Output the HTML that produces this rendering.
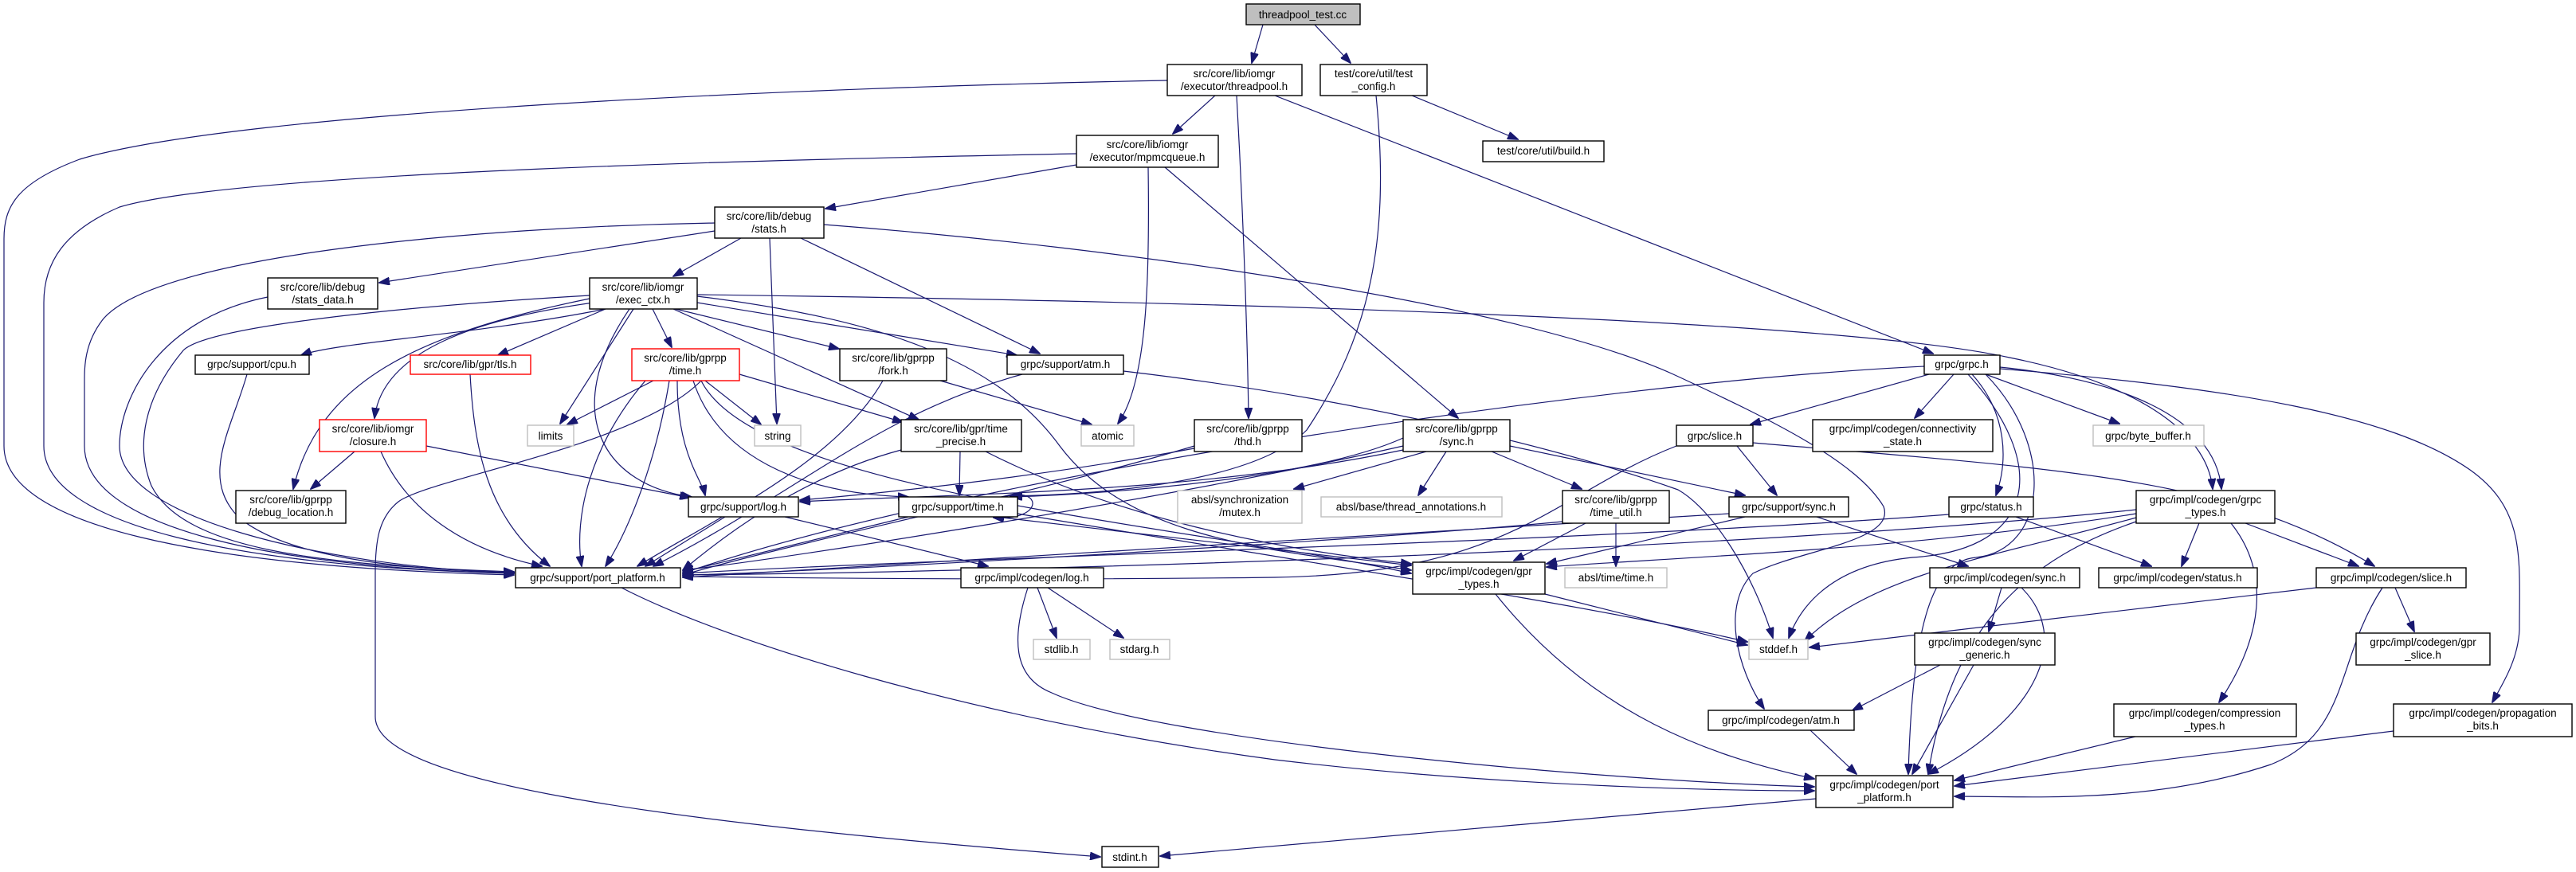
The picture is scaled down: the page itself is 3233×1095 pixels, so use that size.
<!DOCTYPE html>
<html><head><meta charset="utf-8"><style>
html,body{margin:0;padding:0;background:#fff;}
svg{display:block;}
text{font-family:"Liberation Sans",sans-serif;font-size:13.5px;fill:#000;text-anchor:middle;}
.n{fill:#fff;stroke:#000;stroke-width:1.4;}
.g{fill:#fff;stroke:#bfbfbf;stroke-width:1.4;}
.r{fill:#fff;stroke:#ff0000;stroke-width:1.4;}
.e path{fill:none;stroke:#191970;stroke-width:1.2;marker-end:url(#a);}
</style></head><body>
<svg width="3233" height="1095" viewBox="0 0 3233 1095" xmlns="http://www.w3.org/2000/svg">
<defs><marker id="a" markerWidth="14" markerHeight="10" refX="13" refY="5" orient="auto" markerUnits="userSpaceOnUse"><path d="M0,0 L14,5 L0,10 z" fill="#191970" stroke="#191970"/></marker></defs>
<g class="e">
<path d="M1585,31 L1571,79"/>
<path d="M1650,31 L1695,79"/>
<path d="M1525,120 L1472,168"/>
<path d="M1552,120 C1562,300 1566,450 1567,525"/>
<path d="M1600,120 L2426,444"/>
<path d="M1465,101 C1000,110 300,140 100,200 C20,230 5,260 5,300 L5,560 C5,660 250,712 645,722"/>
<path d="M1772,120 L1905,175"/>
<path d="M1727,120 C1745,300 1720,420 1640,540 C1560,620 1300,622 1268,623"/>
<path d="M1351,207 L1036,262"/>
<path d="M1441,210 C1443,350 1440,480 1403,532"/>
<path d="M1462,210 L1830,525"/>
<path d="M1351,193 C1000,200 300,215 150,260 C80,290 55,330 55,380 L55,560 C55,660 300,712 645,720"/>
<path d="M897,290 L476,355"/>
<path d="M930,299 L845,347"/>
<path d="M966,299 L975,532"/>
<path d="M1005,299 L1305,444"/>
<path d="M897,280 C600,285 200,320 130,400 C106,430 106,460 106,480 L106,560 C106,660 330,712 645,720"/>
<path d="M1034,282 C1400,310 1900,380 2100,470 C2230,530 2330,580 2364,636 C2380,680 2260,690 2200,720 C2160,760 2180,840 2214,890"/>
<path d="M875,370 C1500,378 2300,400 2522,449 C2676,480 2770,540 2777,614"/>
<path d="M760,388 C600,420 420,430 378,446"/>
<path d="M760,388 L625,446"/>
<path d="M745,380 C600,400 480,440 470,525"/>
<path d="M795,388 L703,532"/>
<path d="M819,388 L843,436"/>
<path d="M848,388 L1053,438"/>
<path d="M845,388 L1153,527"/>
<path d="M875,380 L1276,446"/>
<path d="M740,375 C520,420 400,480 368,614"/>
<path d="M740,371 C500,385 260,410 230,440 C180,500 170,560 190,610 C230,690 400,710 645,718"/>
<path d="M790,388 C700,520 760,610 868,624"/>
<path d="M875,372 C1100,400 1250,450 1330,560 C1420,680 1600,690 1771,716"/>
<path d="M310,470 C290,540 250,600 300,650 C360,700 500,715 645,719"/>
<path d="M336,373 C200,400 150,500 150,560 C150,650 400,710 645,720"/>
<path d="M590,470 C595,560 610,650 690,711"/>
<path d="M445,567 L390,614"/>
<path d="M478,567 C510,640 580,690 680,711"/>
<path d="M535,560 L866,625"/>
<path d="M820,478 L712,533"/>
<path d="M885,478 L955,533"/>
<path d="M928,470 L1133,530"/>
<path d="M810,478 C740,560 720,650 730,711"/>
<path d="M840,478 C820,600 780,680 760,711"/>
<path d="M870,478 C900,570 1000,620 1140,624"/>
<path d="M850,478 C850,570 880,600 885,622"/>
<path d="M880,478 C950,620 1500,660 1771,720"/>
<path d="M880,478 C800,560 540,600 500,630 C475,650 471,680 471,720 L471,900 C471,980 800,1030 1381,1076"/>
<path d="M1180,478 L1370,533"/>
<path d="M1108,478 C1050,580 900,650 800,711"/>
<path d="M1283,470 C1100,520 1000,620 820,711"/>
<path d="M1410,466 C1700,500 1950,560 2106,615 C2150,640 2200,720 2225,801"/>
<path d="M1205,567 L1204,622"/>
<path d="M1131,565 C1000,600 900,680 857,716"/>
<path d="M1237,567 C1400,650 1600,690 1771,708"/>
<path d="M1499,560 C1300,620 1000,680 857,722"/>
<path d="M1499,563 C1300,600 1100,620 1004,628"/>
<path d="M1790,567 L1624,614"/>
<path d="M1815,567 L1780,622"/>
<path d="M1872,567 L1985,614"/>
<path d="M1895,560 L2190,622"/>
<path d="M1761,560 C1500,620 1000,700 857,716"/>
<path d="M1761,565 C1500,620 1200,620 1004,630"/>
<path d="M1761,550 C1650,600 1400,620 1270,624"/>
<path d="M2421,470 L2197,533"/>
<path d="M2452,470 L2403,525"/>
<path d="M2492,470 L2660,532"/>
<path d="M2475,470 C2520,520 2520,580 2505,622"/>
<path d="M2470,470 C2570,580 2560,690 2400,700 C2300,710 2260,760 2245,801"/>
<path d="M2510,461 C2650,475 2780,520 2788,614"/>
<path d="M2510,463 C2800,487 3000,520 3100,590 C3170,640 3162,700 3162,791 C3160,830 3140,860 3128,882"/>
<path d="M2415,460 C2000,480 1200,600 857,720"/>
<path d="M2492,470 C2580,560 2570,690 2480,700 C2420,705 2400,800 2395,972"/>
<path d="M2180,560 L2230,622"/>
<path d="M2104,560 C1950,620 1900,720 1600,725 C1200,730 900,724 857,724"/>
<path d="M2200,556 C2600,590 2800,600 2980,711"/>
<path d="M1990,657 L1900,704"/>
<path d="M2028,657 L2028,711"/>
<path d="M1961,655 C1700,680 1000,720 857,722"/>
<path d="M2170,645 L857,725"/>
<path d="M2190,649 L1941,708"/>
<path d="M2280,649 L2470,711"/>
<path d="M1140,649 L857,718"/>
<path d="M1250,649 L1771,710"/>
<path d="M1277,645 C1600,700 2000,760 2193,806"/>
<path d="M1260,624 C1310,610 1310,655 1247,650"/>
<path d="M910,649 L810,711"/>
<path d="M985,649 L1240,711"/>
<path d="M1302,738 L1326,801"/>
<path d="M1315,738 L1410,801"/>
<path d="M1290,738 C1270,800 1270,850 1320,870 C1450,930 2000,980 2277,988"/>
<path d="M780,738 C900,800 1200,900 1600,954 C1900,990 2200,993 2277,993"/>
<path d="M1939,746 L2193,810"/>
<path d="M1877,746 C2000,900 2150,950 2277,978"/>
<path d="M2446,646 C2000,680 1200,700 857,720"/>
<path d="M2530,649 L2700,711"/>
<path d="M2760,657 L2738,711"/>
<path d="M2818,657 L2960,711"/>
<path d="M2800,657 C2850,720 2840,800 2785,882"/>
<path d="M2681,650 C2500,700 2350,720 2265,805"/>
<path d="M2681,655 C2550,700 2450,780 2420,972"/>
<path d="M2681,645 C2400,690 2100,700 1941,712"/>
<path d="M2681,640 C2200,690 1300,718 857,722"/>
<path d="M2512,738 L2496,793"/>
<path d="M2537,738 C2600,800 2560,900 2420,972"/>
<path d="M2435,835 L2325,892"/>
<path d="M2477,835 L2400,972"/>
<path d="M2272,917 L2330,972"/>
<path d="M2907,738 L2271,813"/>
<path d="M3006,738 L3030,793"/>
<path d="M2990,738 C2930,830 2950,920 2850,960 C2700,1010 2550,1000 2453,1000"/>
<path d="M2680,925 L2453,980"/>
<path d="M3004,918 L2453,987"/>
<path d="M2279,1003 L1456,1075"/>
</g>
<g>
<rect x="1564" y="5" width="143" height="26" fill="#bfbfbf" stroke="#000" stroke-width="1.4"/><text x="1635" y="23">threadpool_test.cc</text>
<rect class="n" x="1465" y="81" width="169" height="39"/><text x="1549" y="97">src/core/lib/iomgr</text><text x="1549" y="113">/executor/threadpool.h</text>
<rect class="n" x="1657" y="81" width="134" height="39"/><text x="1724" y="97">test/core/util/test</text><text x="1724" y="113">_config.h</text>
<rect class="n" x="1861" y="177" width="152" height="26"/><text x="1937" y="194">test/core/util/build.h</text>
<rect class="n" x="1351" y="170" width="178" height="40"/><text x="1440" y="186">src/core/lib/iomgr</text><text x="1440" y="202">/executor/mpmcqueue.h</text>
<rect class="n" x="897" y="260" width="137" height="39"/><text x="965" y="276">src/core/lib/debug</text><text x="965" y="292">/stats.h</text>
<rect class="n" x="336" y="349" width="138" height="39"/><text x="405" y="365">src/core/lib/debug</text><text x="405" y="381">/stats_data.h</text>
<rect class="n" x="740" y="349" width="135" height="39"/><text x="807" y="365">src/core/lib/iomgr</text><text x="807" y="381">/exec_ctx.h</text>
<rect class="n" x="245" y="446" width="143" height="24"/><text x="316" y="462">grpc/support/cpu.h</text>
<rect class="r" x="515" y="446" width="151" height="24"/><text x="590" y="462">src/core/lib/gpr/tls.h</text>
<rect class="r" x="793" y="438" width="135" height="40"/><text x="860" y="454">src/core/lib/gprpp</text><text x="860" y="470">/time.h</text>
<rect class="n" x="1054" y="438" width="134" height="40"/><text x="1121" y="454">src/core/lib/gprpp</text><text x="1121" y="470">/fork.h</text>
<rect class="n" x="1264" y="446" width="146" height="24"/><text x="1337" y="462">grpc/support/atm.h</text>
<rect class="n" x="2415" y="446" width="95" height="24"/><text x="2462" y="462">grpc/grpc.h</text>
<rect class="r" x="401" y="527" width="134" height="40"/><text x="468" y="543">src/core/lib/iomgr</text><text x="468" y="559">/closure.h</text>
<rect class="g" x="662" y="534" width="58" height="26"/><text x="691" y="552">limits</text>
<rect class="g" x="947" y="534" width="58" height="26"/><text x="976" y="552">string</text>
<rect class="n" x="1131" y="527" width="151" height="40"/><text x="1206" y="543">src/core/lib/gpr/time</text><text x="1206" y="559">_precise.h</text>
<rect class="g" x="1357" y="534" width="66" height="26"/><text x="1390" y="552">atomic</text>
<rect class="n" x="1499" y="527" width="135" height="40"/><text x="1566" y="543">src/core/lib/gprpp</text><text x="1566" y="559">/thd.h</text>
<rect class="n" x="1761" y="527" width="134" height="40"/><text x="1828" y="543">src/core/lib/gprpp</text><text x="1828" y="559">/sync.h</text>
<rect class="n" x="2104" y="534" width="96" height="26"/><text x="2152" y="552">grpc/slice.h</text>
<rect class="n" x="2275" y="527" width="226" height="40"/><text x="2388" y="543">grpc/impl/codegen/connectivity</text><text x="2388" y="559">_state.h</text>
<rect class="g" x="2627" y="534" width="139" height="26"/><text x="2696" y="552">grpc/byte_buffer.h</text>
<rect class="n" x="296" y="616" width="138" height="41"/><text x="365" y="632">src/core/lib/gprpp</text><text x="365" y="648">/debug_location.h</text>
<rect class="n" x="647" y="713" width="207" height="25"/><text x="750" y="730">grpc/support/port_platform.h</text>
<rect class="n" x="864" y="624" width="138" height="25"/><text x="933" y="641">grpc/support/log.h</text>
<rect class="n" x="1128" y="624" width="149" height="25"/><text x="1202" y="641">grpc/support/time.h</text>
<rect class="g" x="1478" y="616" width="156" height="41"/><text x="1556" y="632">absl/synchronization</text><text x="1556" y="648">/mutex.h</text>
<rect class="n" x="1206" y="713" width="179" height="25"/><text x="1295" y="730">grpc/impl/codegen/log.h</text>
<rect class="g" x="1297" y="803" width="71" height="25"/><text x="1332" y="820">stdlib.h</text>
<rect class="g" x="1393" y="803" width="75" height="25"/><text x="1430" y="820">stdarg.h</text>
<rect class="n" x="1383" y="1063" width="71" height="26"/><text x="1418" y="1081">stdint.h</text>
<rect class="g" x="1658" y="624" width="227" height="25"/><text x="1771" y="641">absl/base/thread_annotations.h</text>
<rect class="n" x="1961" y="616" width="134" height="41"/><text x="2028" y="632">src/core/lib/gprpp</text><text x="2028" y="648">/time_util.h</text>
<rect class="n" x="2170" y="624" width="150" height="25"/><text x="2245" y="641">grpc/support/sync.h</text>
<rect class="n" x="1773" y="706" width="166" height="40"/><text x="1856" y="722">grpc/impl/codegen/gpr</text><text x="1856" y="738">_types.h</text>
<rect class="g" x="1964" y="713" width="128" height="25"/><text x="2028" y="730">absl/time/time.h</text>
<rect class="g" x="2195" y="803" width="74" height="25"/><text x="2232" y="820">stddef.h</text>
<rect class="n" x="2144" y="892" width="183" height="25"/><text x="2235" y="909">grpc/impl/codegen/atm.h</text>
<rect class="n" x="2279" y="974" width="172" height="40"/><text x="2365" y="990">grpc/impl/codegen/port</text><text x="2365" y="1006">_platform.h</text>
<rect class="n" x="2446" y="624" width="106" height="25"/><text x="2499" y="641">grpc/status.h</text>
<rect class="n" x="2681" y="616" width="174" height="41"/><text x="2768" y="632">grpc/impl/codegen/grpc</text><text x="2768" y="648">_types.h</text>
<rect class="n" x="2422" y="713" width="188" height="25"/><text x="2516" y="730">grpc/impl/codegen/sync.h</text>
<rect class="n" x="2634" y="713" width="199" height="25"/><text x="2733" y="730">grpc/impl/codegen/status.h</text>
<rect class="n" x="2907" y="713" width="188" height="25"/><text x="3001" y="730">grpc/impl/codegen/slice.h</text>
<rect class="n" x="2403" y="795" width="176" height="40"/><text x="2491" y="811">grpc/impl/codegen/sync</text><text x="2491" y="827">_generic.h</text>
<rect class="n" x="2957" y="795" width="168" height="40"/><text x="3041" y="811">grpc/impl/codegen/gpr</text><text x="3041" y="827">_slice.h</text>
<rect class="n" x="2653" y="884" width="229" height="41"/><text x="2767" y="900">grpc/impl/codegen/compression</text><text x="2767" y="916">_types.h</text>
<rect class="n" x="3004" y="884" width="224" height="41"/><text x="3116" y="900">grpc/impl/codegen/propagation</text><text x="3116" y="916">_bits.h</text>
</g>
</svg>
</body></html>
